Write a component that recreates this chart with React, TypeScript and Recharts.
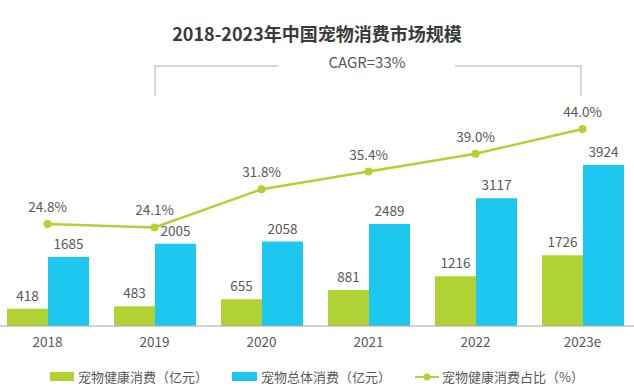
import React from "react";
import {
  Bar,
  ComposedChart,
  LabelList,
  Line,
  XAxis,
  YAxis,
} from "recharts";

const YEARS = ["2018", "2019", "2020", "2021", "2022", "2023e"];
const HEALTH = [418, 483, 655, 881, 1216, 1726];
const TOTAL = [1685, 2005, 2058, 2489, 3117, 3924];
const SHARE = [24.8, 24.1, 31.8, 35.4, 39.0, 44.0];

const GREEN = "#b1d234";
const CYAN = "#1cc7f0";
const TEXT = "#595959";
const FONT = "'Noto Sans CJK SC', 'Noto Sans', sans-serif";

const data = YEARS.map((y, i) => ({
  year: y,
  health: HEALTH[i],
  total: TOTAL[i],
  share: SHARE[i],
}));

function Legend() {
  const item = { position: "absolute" as const, top: 367, fontSize: 13, color: TEXT, display: "flex", alignItems: "center", whiteSpace: "nowrap" as const };
  return (
    <>
      <div style={{ ...item, left: 50 }}>
        <span style={{ width: 24, height: 9, background: GREEN, marginRight: 4 }} />
        宠物健康消费（亿元）
      </div>
      <div style={{ ...item, left: 232 }}>
        <span style={{ width: 25, height: 9, background: CYAN, marginRight: 4 }} />
        宠物总体消费（亿元）
      </div>
      <div style={{ ...item, left: 415 }}>
        <svg width={24} height={10} style={{ marginRight: 3 }}>
          <line x1={0} y1={5} x2={24} y2={5} stroke={GREEN} strokeWidth={2} />
          <circle cx={12} cy={5} r={3.5} fill={GREEN} />
        </svg>
        宠物健康消费占比（%）
      </div>
    </>
  );
}

export default function App() {
  return (
    <div
      style={{
        position: "absolute",
        left: 0,
        top: 0,
        width: 634,
        height: 387,
        overflow: "hidden",
        background: "#fff",
        fontFamily: FONT,
      }}
    >
      <div
        style={{
          position: "absolute",
          top: 20,
          width: 634,
          textAlign: "center",
          fontSize: 18,
          fontWeight: 700,
          color: "#3a3a3a",
        }}
      >
        2018-2023年中国宠物消费市场规模
      </div>
      <svg width={634} height={110} style={{ position: "absolute", left: 0, top: 0 }}>
        <polyline points="155,96 155,66 278,66" fill="none" stroke="#c8c8c8" strokeWidth={1.5} />
        <polyline points="455,66 581,66 581,96" fill="none" stroke="#c8c8c8" strokeWidth={1.5} />
        <text x={367} y={68} textAnchor="middle" fontSize={15} fill={TEXT} fontFamily={FONT}>
          CAGR=33%
        </text>
      </svg>
      <div style={{ position: "absolute", left: -6, top: 0 }}>
        <ComposedChart
          width={642}
          height={387}
          data={data}
          margin={{ top: 121, right: 0, bottom: 31, left: 0 }}
          barCategoryGap={12.5}
          barGap={0}
        >
          <XAxis
            dataKey="year"
            height={30}
            tickLine={false}
            axisLine={{ stroke: "#a6a6a6", strokeWidth: 1 }}
            tickMargin={5}
            tick={{ fontSize: 13.5, fill: TEXT, fontFamily: FONT }}
          />
          <YAxis yAxisId="v" hide domain={[0, 5000]} />
          <YAxis yAxisId="p" hide orientation="right" domain={[4.2, 45.6]} />
          <Bar yAxisId="v" dataKey="health" fill={GREEN} barSize={41} isAnimationActive={false}>
            <LabelList dataKey="health" position="top" offset={8} fontSize={13.5} fill={TEXT} fontFamily={FONT} />
          </Bar>
          <Bar yAxisId="v" dataKey="total" fill={CYAN} barSize={41} isAnimationActive={false}>
            <LabelList dataKey="total" position="top" offset={8} fontSize={13.5} fill={TEXT} fontFamily={FONT} />
          </Bar>
          <Line
            yAxisId="p"
            dataKey="share"
            stroke={GREEN}
            strokeWidth={2.5}
            dot={{ r: 4, fill: GREEN, stroke: GREEN, strokeWidth: 0 }}
            activeDot={false}
            isAnimationActive={false}
          >
            <LabelList
              dataKey="share"
              position="top"
              offset={12}
              fontSize={13.5}
              fill={TEXT}
              fontFamily={FONT}
              formatter={(v: any) => `${Number(v).toFixed(1)}%`}
            />
          </Line>
        </ComposedChart>
      </div>
      <Legend />
    </div>
  );
}
